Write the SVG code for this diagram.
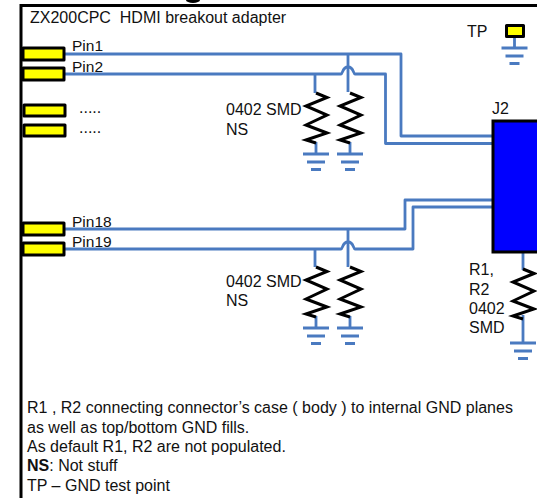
<svg xmlns="http://www.w3.org/2000/svg" width="537" height="498" viewBox="0 0 537 498">
<style>
text{font-family:"Liberation Sans",Arial,sans-serif;font-size:16px;fill:#111;white-space:pre}
.pn{font-size:15.5px}
.w{fill:none;stroke:#4a7ac0;stroke-width:2.8;stroke-linejoin:round}
.g{fill:none;stroke:#4a7ac0;stroke-width:2.8}
.r{fill:none;stroke:#000;stroke-width:3;stroke-linejoin:miter}
.p{fill:#ff0;stroke:#000;stroke-width:3;stroke-linejoin:round}
</style>
<defs>
<g id="gnd"><path class="g" d="M-13 0H13M-9 8H9M-5 15.500H5"/></g>
<g id="res"><path class="r" d="M0 0L11 4.500L-10 13L11 22L-10 32L11 40L-10 47L0 50"/></g>
</defs>
<rect width="537" height="498" fill="#fff"/>
<g id="frame"><path d="M537 5.500H21V498" fill="none" stroke="#000" stroke-width="3"/><ellipse cx="193" cy="0" rx="7" ry="3" fill="#000"/></g>
<g id="connectors">
<path class="w" d="M65 54H401V136H493"/>
<path class="w" d="M65 74H341C343 74 342 67 348 67C354 67 353 74 355 74H385.500V143.500H493"/>
<path class="w" d="M65 229H405V200H493"/>
<path class="w" d="M65 249H341C343 249 342 242 348 242C354 242 353 249 355 249H413V207H493"/>
<path class="w" d="M315 74V93M348 54V92M315 249V267M348 229V267"/>
<path class="w" d="M316 142V154M350 142V154M316 316V328M350 316V328"/>
<path class="w" d="M523 252V270M523 315V343M514.500 37V48"/>
</g>
<g id="pin1"><rect class="p" x="23" y="48" width="41" height="12"/><text class="pn" x="72" y="51">Pin1</text></g>
<g id="pin2"><rect class="p" x="23" y="68" width="41" height="12"/><text class="pn" x="72" y="72">Pin2</text></g>
<g id="pin3"><rect class="p" x="24" y="105" width="41" height="11"/><text x="79" y="113">.....</text></g>
<g id="pin4"><rect class="p" x="24" y="125" width="41" height="11"/><text x="79" y="133">.....</text></g>
<g id="pin18"><rect class="p" x="23" y="223" width="41" height="12"/><text class="pn" x="72" y="227">Pin18</text></g>
<g id="pin19"><rect class="p" x="23" y="243" width="41" height="12"/><text class="pn" x="72" y="247">Pin19</text></g>
<g id="title"><text x="30" y="23">ZX200CPC  HDMI breakout adapter</text></g>
<g id="tp"><rect class="p" x="506.500" y="25.500" width="17" height="11"/><text x="467" y="36.500">TP</text><use href="#gnd" x="514.500" y="48"/></g>
<g id="j2"><rect x="493" y="121" width="50" height="131" fill="#0000ff" stroke="#000" stroke-width="3"/><text x="492" y="114">J2</text></g>
<g id="r-a"><use href="#res" x="316" y="93"/><use href="#gnd" x="316" y="154"/></g>
<g id="r-b"><use href="#res" x="350" y="93"/><use href="#gnd" x="350" y="154"/></g>
<g id="label-a"><text x="226" y="115">0402 SMD</text><text x="226" y="135">NS</text></g>
<g id="r-c"><use href="#res" x="316" y="267"/><use href="#gnd" x="316" y="328"/></g>
<g id="r-d"><use href="#res" x="350" y="267"/><use href="#gnd" x="350" y="328"/></g>
<g id="label-b"><text x="226" y="287">0402 SMD</text><text x="226" y="306">NS</text></g>
<g id="r-e"><use href="#res" x="523" y="269"/><use href="#gnd" x="523" y="343"/><text x="469" y="275">R1,</text><text x="469" y="294.500">R2</text><text x="469" y="314">0402</text><text x="469" y="333">SMD</text></g>
<g id="notes">
<text x="27" y="413">R1 , R2 connecting connector’s case ( body ) to internal GND planes</text>
<text x="27" y="432.500">as well as top/bottom GND fills.</text>
<text x="27" y="452">As default R1, R2 are not populated.</text>
<text x="27" y="471"><tspan font-weight="bold">NS</tspan>: Not stuff</text>
<text x="27" y="491" font-size="15.6">TP – GND test point</text>
</g>
</svg>
